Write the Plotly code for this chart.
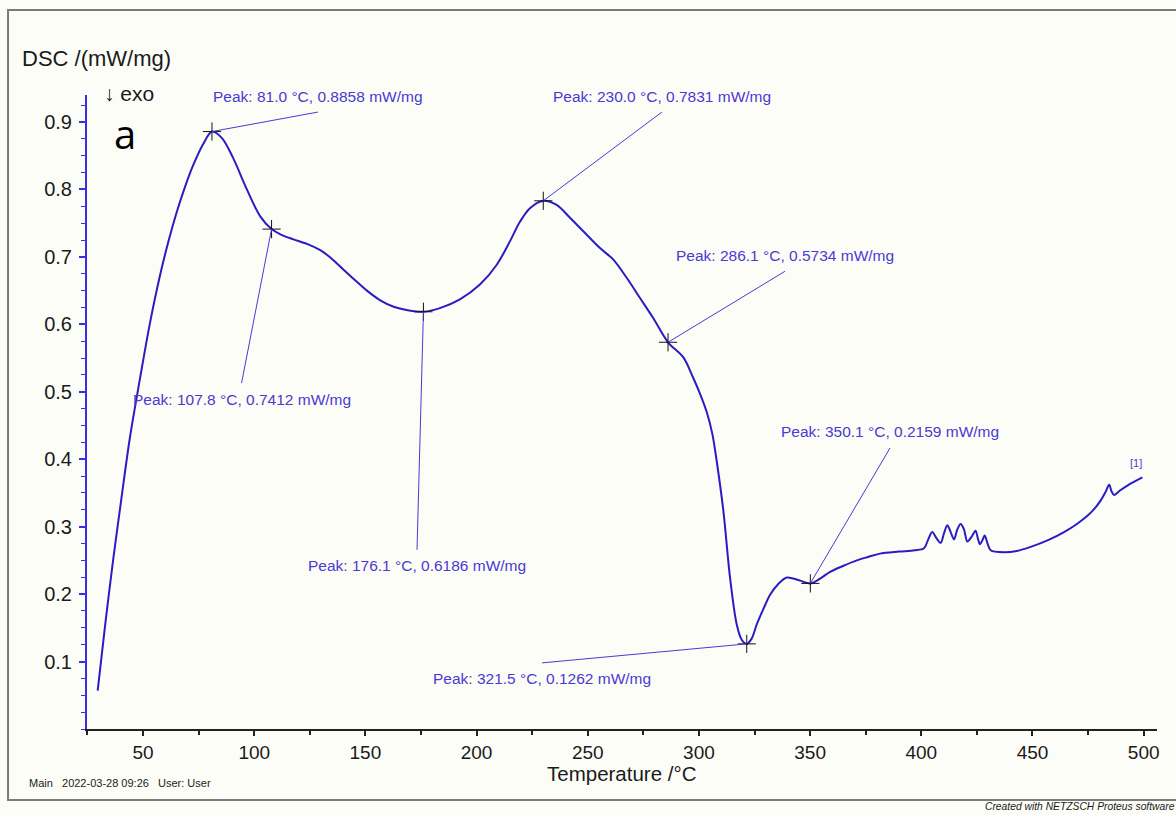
import plotly.graph_objects as go

# DSC trace: temperature (°C) and heat flow (mW/mg)
temperature = [
    29.6, 33, 36.6, 40, 44, 48.6, 53, 57.6, 61.5, 65.2, 69, 72.7, 77, 81.0,
    85.5, 90.6, 96.7, 102.7, 107.8, 112, 117.6, 124, 129.7, 135, 140.2, 145.5,
    150.7, 156.5, 162.7, 169, 176.1, 183.5, 192.5, 201.5, 209.0, 215.0, 219.5,
    224.0, 230.0, 236.0, 242.0, 248.0, 255.5, 261.5, 267.5, 273.5, 279.5,
    286.1, 293.0, 297.5, 300.5, 303.5, 306, 308.0, 311.0, 314.0, 317.0, 319.3,
    321.5, 323.7, 326.0, 329, 332.0, 336, 339.5, 342.5, 345.5, 350.1, 354.5,
    359.0, 365, 371.0, 376, 381.4, 390, 397, 401.2, 403, 404.9, 406.8, 408.7,
    410.2, 411.7, 413.2, 414.7, 416.2, 417.7, 419.2, 420.7, 422.6, 424.4,
    425.4, 426.4, 427.5, 428.5, 429.8, 431.2, 437.2, 443, 449.2, 457, 464.2,
    470, 474.7, 478, 480.7, 482.8, 484.5, 485.6, 486.7, 489.5, 492.7, 496, 499.4,
]
dsc = [
    0.057, 0.155, 0.252, 0.335, 0.430, 0.519, 0.600, 0.672, 0.724, 0.767,
    0.805, 0.837, 0.867, 0.8858, 0.876, 0.846, 0.800, 0.760, 0.7412, 0.733,
    0.726, 0.719, 0.710, 0.697, 0.681, 0.665, 0.650, 0.636, 0.626, 0.621,
    0.6186, 0.624, 0.637, 0.659, 0.688, 0.723, 0.752, 0.772, 0.7831, 0.777,
    0.758, 0.738, 0.713, 0.696, 0.669, 0.639, 0.609, 0.5734, 0.551, 0.520,
    0.497, 0.470, 0.438, 0.397, 0.323, 0.224, 0.155, 0.132, 0.1262, 0.134,
    0.155, 0.178, 0.199, 0.216, 0.2245, 0.223, 0.220, 0.2159, 0.223, 0.233,
    0.242, 0.250, 0.255, 0.260, 0.263, 0.265, 0.268, 0.280, 0.292, 0.283,
    0.276, 0.290, 0.302, 0.292, 0.281, 0.296, 0.304, 0.296, 0.278, 0.285,
    0.294, 0.283, 0.274, 0.280, 0.287, 0.275, 0.265, 0.262, 0.264, 0.270,
    0.280, 0.292, 0.304, 0.316, 0.327, 0.339, 0.351, 0.362, 0.352, 0.347,
    0.354, 0.361, 0.367, 0.373,
]

# Evaluated peaks
peak_temp = [81.0, 107.8, 176.1, 230.0, 286.1, 321.5, 350.1]
peak_dsc = [0.8858, 0.7412, 0.6186, 0.7831, 0.5734, 0.1262, 0.2159]

# Axis ticks
x_ticks = [50, 100, 150, 200, 250, 300, 350, 400, 450, 500]
y_ticks = [0.1, 0.2, 0.3, 0.4, 0.5, 0.6, 0.7, 0.8, 0.9]

# Leader-line end offsets in pixels from each peak (x right, y up)
leader_dx = [106, -30, -6.4, 118.7, 117, -204.7, 79.7]
leader_dy = [19.5, -154, -238, 88.8, 71, -19, 135.4]

BG = "#fdfdf8"
CURVE = "#2a1cc0"
LABEL = "#4a3ad2"
AXIS_BLUE = "#3a2ee0"
FONT = "Liberation Sans, Arial, sans-serif"

fig = go.Figure()

fig.add_trace(go.Scatter(
    x=temperature, y=dsc, mode="lines",
    line=dict(color=CURVE, width=2, shape="spline", smoothing=0.9),
    hoverinfo="skip", showlegend=False,
))

fig.add_trace(go.Scatter(
    x=peak_temp, y=peak_dsc, mode="markers",
    marker=dict(symbol="cross-thin", size=13, line=dict(color="#111111", width=1)),
    hoverinfo="skip", showlegend=False,
))

shapes = []
annotations = []
for t, v, dx, dy in zip(peak_temp, peak_dsc, leader_dx, leader_dy):
    shapes.append(dict(
        type="line", xref="x", yref="y",
        xsizemode="pixel", ysizemode="pixel",
        xanchor=t, yanchor=v, x0=0, y0=0, x1=dx, y1=dy,
        line=dict(color=LABEL, width=1),
    ))
    ty = dy + 16 if dy > 0 else dy - 16
    annotations.append(dict(
        x=t, y=v, xref="x", yref="y", showarrow=False,
        xshift=dx, yshift=ty, xanchor="center", yanchor="middle",
        text=f"Peak: {t:.1f} °C, {v:.4f} mW/mg",
        font=dict(family=FONT, size=15.5, color=LABEL),
    ))

# Curve end label
annotations.append(dict(
    x=temperature[-1], y=dsc[-1], xref="x", yref="y", showarrow=False,
    xshift=-6, yshift=6, xanchor="center", yanchor="bottom",
    text="[1]", font=dict(family=FONT, size=11, color=LABEL),
))

# Outer frame
shapes.append(dict(
    type="rect", xref="paper", yref="paper",
    x0=-0.0738, x1=1.03, y0=-0.112, y1=1.134,
    line=dict(color="#7a7a7a", width=2), fillcolor="rgba(0,0,0,0)", layer="below",
))

annotations += [
    dict(xref="paper", yref="paper", x=-0.0626, y=1.058, xanchor="left", yanchor="middle",
         showarrow=False, text="DSC /(mW/mg)", font=dict(family=FONT, size=22, color="#1a1a1a")),
    dict(xref="paper", yref="paper", x=0.0140, y=1.003, xanchor="left", yanchor="middle",
         showarrow=False, text="↓ exo", font=dict(family=FONT, size=21, color="#1a1a1a")),
    dict(xref="paper", yref="paper", x=0.0235, y=0.940, xanchor="left", yanchor="middle",
         showarrow=False, text="a", font=dict(family="Open Sans, sans-serif", size=40, color="#000000")),
    dict(xref="paper", yref="paper", x=0.5, y=-0.0700, xanchor="center", yanchor="middle",
         showarrow=False, text="Temperature /°C", font=dict(family=FONT, size=20.5, color="#1a1a1a")),
    dict(xref="paper", yref="paper", x=-0.0561, y=-0.0852, xanchor="left", yanchor="middle",
         showarrow=False, text="Main&nbsp;&nbsp;&nbsp;2022-03-28 09:26&nbsp;&nbsp;&nbsp;User: User",
         font=dict(family=FONT, size=11, color="#1a1a1a")),
    dict(xref="paper", yref="paper", x=0.8374, y=-0.1230, xanchor="left", yanchor="middle",
         showarrow=False, text="<i>Created with NETZSCH Proteus software</i>",
         font=dict(family=FONT, size=10.3, color="#1a1a1a")),
]

fig.update_layout(
    width=1176, height=815,
    margin=dict(l=87, r=19, t=95, b=86),
    paper_bgcolor=BG, plot_bgcolor=BG,
    shapes=shapes, annotations=annotations,
    font=dict(family=FONT, size=20, color="#1a1a1a"),
    xaxis=dict(
        range=[24.8, 506], tickvals=x_ticks, showgrid=False, zeroline=False,
        showline=True, linecolor="#222222", linewidth=2,
        ticks="outside", ticklen=5, tickcolor="#222222", tickwidth=2,
        minor=dict(dtick=25, tick0=0, ticks="outside", ticklen=4, tickcolor="#222222", tickwidth=2),
        tickfont=dict(family=FONT, size=19, color="#1a1a1a"),
    ),
    yaxis=dict(
        range=[0, 0.94], tickvals=y_ticks, tickformat=".1f", showgrid=False, zeroline=False,
        showline=True, linecolor=AXIS_BLUE, linewidth=2,
        ticks="outside", ticklen=6, tickcolor=AXIS_BLUE, tickwidth=2,
        minor=dict(dtick=0.025, tick0=0, ticks="outside", ticklen=4, tickcolor=AXIS_BLUE, tickwidth=1),
        tickfont=dict(family=FONT, size=20, color="#1a1a1a"),
        ticklabelstandoff=3,
    ),
)

fig.write_html("out.html")
